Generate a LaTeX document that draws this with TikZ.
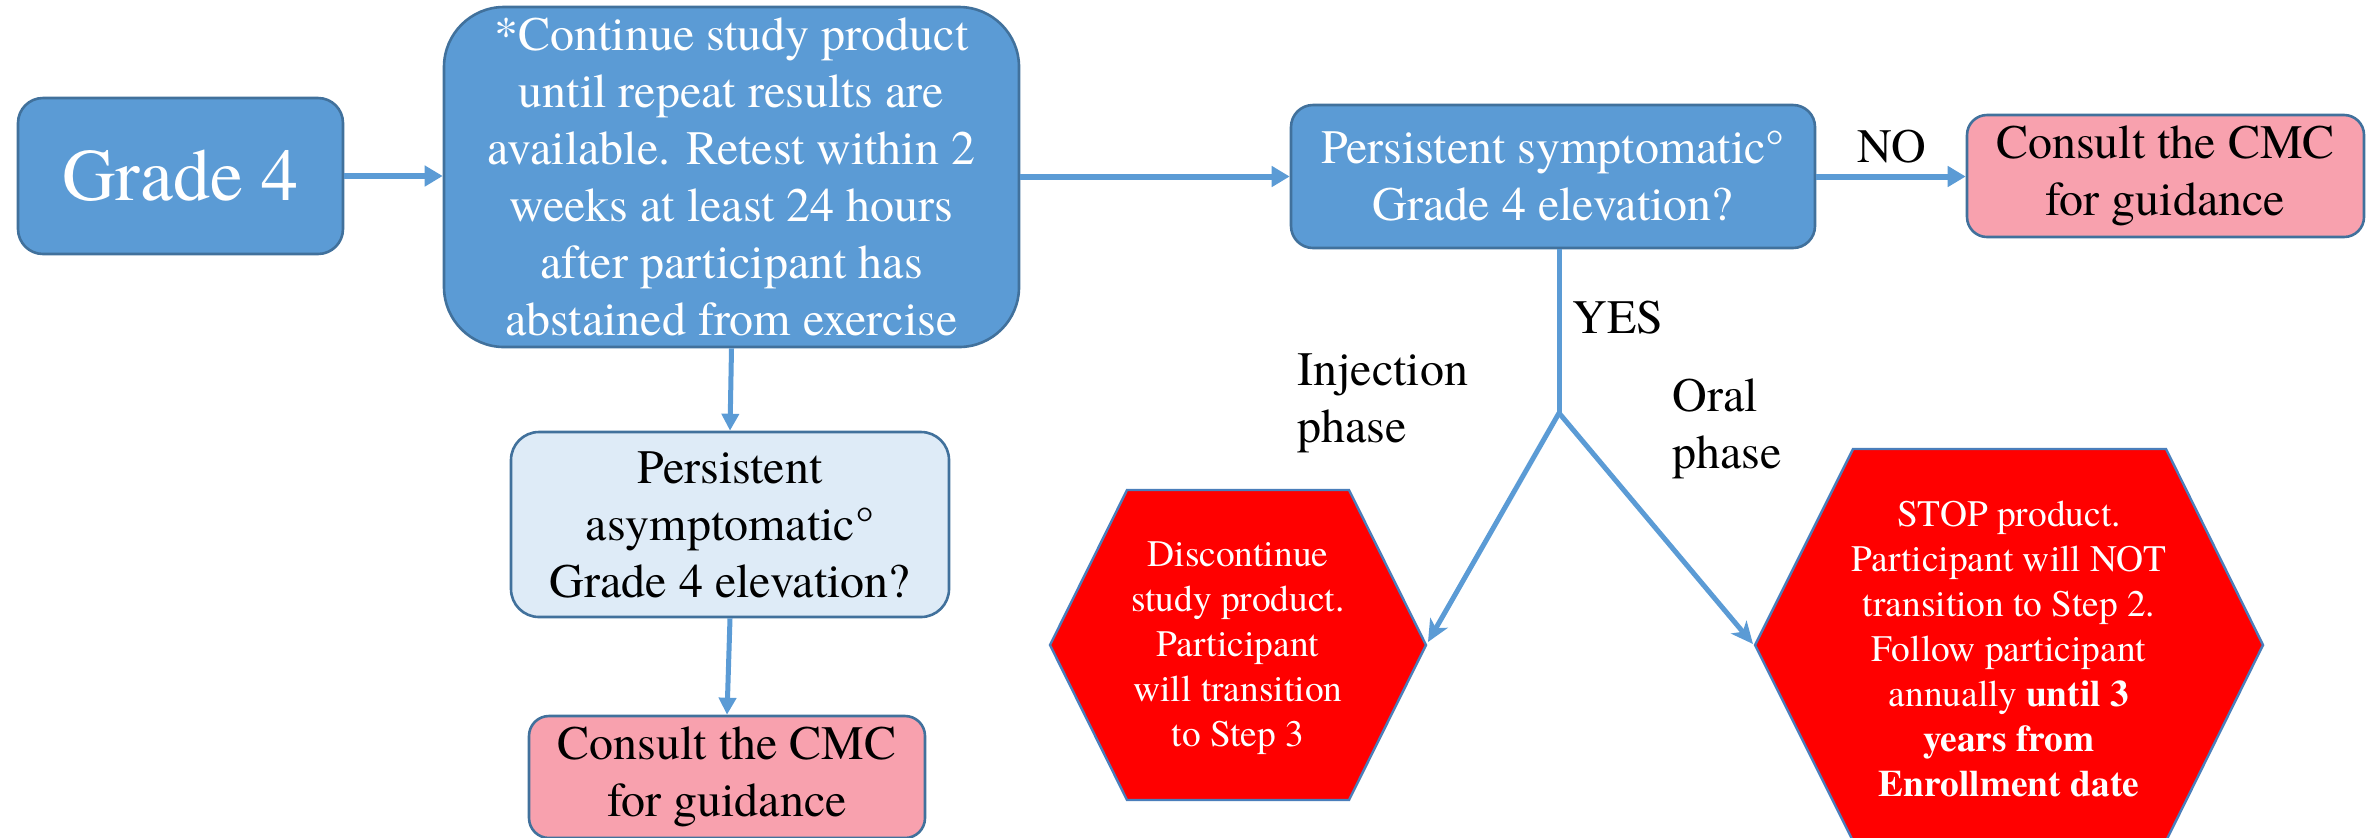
\documentclass[tikz,border=0pt]{standalone}
\usepackage{fontspec}
\setmainfont{texgyretermes}[Extension=.otf, UprightFont=*-regular, BoldFont=*-bold,
  ItalicFont=*-italic, BoldItalicFont=*-bolditalic]
\usetikzlibrary{arrows.meta}

\definecolor{boxblue}{RGB}{91,155,213}
\definecolor{boxedge}{RGB}{65,113,156}
\definecolor{paleblue}{RGB}{222,235,247}
\definecolor{consultpink}{RGB}{248,161,174}
\definecolor{stopred}{RGB}{255,0,0}
\definecolor{hexedge}{RGB}{74,126,187}
\definecolor{flowline}{RGB}{91,155,213}

\tikzset{
  basebox/.style={draw=boxedge, line width=1.3pt, inner sep=0pt, align=center},
  bluebox/.style={basebox, fill=boxblue, text=white},
  palebox/.style={basebox, fill=paleblue, text=black},
  pinkbox/.style={basebox, fill=consultpink, text=black},
  hexbox/.style={draw=hexedge, line width=1.2pt, fill=stopred},
  mainfont/.style={font=\fontsize{24}{28.5}\selectfont},
  hexfont/.style={font=\fontsize{18.7}{22.5}\selectfont, text=white, align=center, inner sep=0pt},
  flow/.style={draw=flowline, line width=3pt, -{Triangle[length=9pt,width=10pt]}},
  thinflow/.style={draw=flowline, line width=2.5pt, -{Triangle[length=8.5pt,width=8.5pt]}},
  branch/.style={draw=flowline, line width=2.5pt},
  brancharrow/.style={draw=flowline, line width=2.5pt, -{Stealth[length=11pt,width=10pt,inset=3pt]}},
  tag/.style={mainfont, text=black, inner sep=0pt, align=left}
}

\begin{document}
\begin{tikzpicture}[x=0.5pt, y=-0.5pt]
  \useasboundingbox (0,0) rectangle (2369,837);
  \clip (0,0) rectangle (2369,837);

  % boxes of the main flow
  \node[bluebox, minimum width=162.5pt, minimum height=78pt, rounded corners=12.5pt,
        font=\fontsize{37}{44}\selectfont] (g4) at (180.5,176) {Grade 4};
  \node[bluebox, mainfont, minimum width=287.5pt, minimum height=170pt, rounded corners=30pt]
        (cont) at (731.5,177)
        {*Continue study product\\ until repeat results are\\ available. Retest within 2\\
         weeks at least 24 hours\\ after participant has\\ abstained from exercise};
  \node[bluebox, mainfont, minimum width=262pt, minimum height=71.5pt, rounded corners=11pt]
        (sym) at (1553,176.5) {Persistent symptomatic\textdegree\\ Grade 4 elevation?};
  \node[pinkbox, mainfont, minimum width=198.5pt, minimum height=61pt, rounded corners=10pt]
        (cmcA) at (2165.5,176) {Consult the CMC\\ for guidance};
  \node[palebox, mainfont, minimum width=219pt, minimum height=92.5pt, rounded corners=14pt]
        (asym) at (730,524.5) {Persistent\\ asymptomatic\textdegree\\ Grade 4 elevation?};
  \node[pinkbox, mainfont, minimum width=198pt, minimum height=61pt, rounded corners=10pt]
        (cmcB) at (727,777) {Consult the CMC\\ for guidance};

  % hexagonal stop boxes
  \draw[hexbox] (1050,645) -- (1127,490) -- (1349,490) -- (1426,645)
                -- (1349,800) -- (1127,800) -- cycle;
  \coordinate (hexLtip) at (1428,642);
  \node[hexfont] (hexL) at (1238,648)
        {Discontinue\\ study product.\\ Participant\\ will transition\\ to Step 3};

  \draw[hexbox] (1755,645) -- (1853,449) -- (2166,449) -- (2263,645)
                -- (2166,841) -- (1853,841) -- cycle;
  \coordinate (hexRtip) at (1753,644);
  \node[hexfont] (hexR) at (2009,649)
        {STOP product.\\ Participant will NOT\\ transition to Step 2.\\ Follow participant\\
         annually \textbf{until 3}\\ \textbf{years from}\\ \textbf{Enrollment date}};

  % connectors
  \draw[flow] (g4.east) -- (g4.east -| cont.west);
  \draw[flow] (cont.east |- sym.west) -- (sym.west);
  \draw[flow] (sym.east) -- (sym.east -| cmcA.west);
  \draw[thinflow] (cont.south) -- (asym.north);
  \draw[thinflow] (asym.south) -- (cmcB.north);

  \coordinate (split) at (1559,413);
  \draw[branch] (sym.south -| split) -- (split);
  \draw[brancharrow] (split) -- (hexLtip);
  \draw[brancharrow] (split) -- (hexRtip);

  % branch labels
  \node[tag, anchor=base] (no) at (1892,162) {NO};
  \node[tag, anchor=base west] (yes) at (1572,333) {YES};
  \node[tag, anchor=west] (inj) at (1297,403.5) {Injection\\ phase};
  \node[tag, anchor=west] (oral) at (1672,429) {Oral\\ phase};
\end{tikzpicture}
\end{document}
